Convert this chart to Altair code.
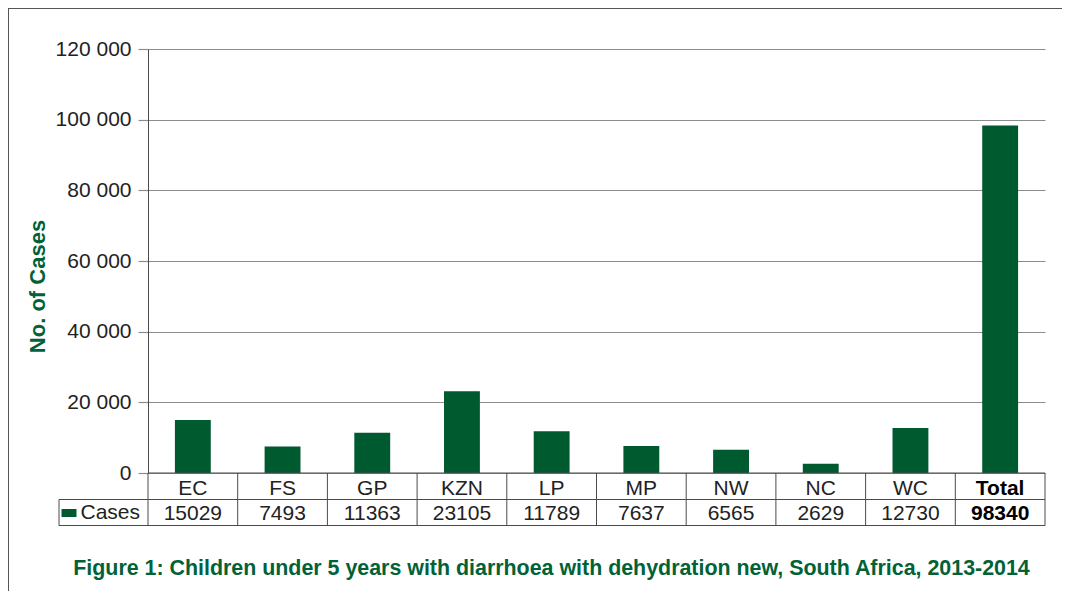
import altair as alt
import pandas as pd

categories = ["EC", "FS", "GP", "KZN", "LP", "MP", "NW", "NC", "WC", "Total"]
cases = [15029, 7493, 11363, 23105, 11789, 7637, 6565, 2629, 12730, 98340]
y_ticks = [0, 20000, 40000, 60000, 80000, 100000, 120000]
series_name = "Cases"
y_title = "No. of Cases"
caption = "Figure 1: Children under 5 years with diarrhoea with dehydration new, South Africa, 2013-2014"

GREEN = "#005a30"
TEXT_GREEN = "#006236"
LINE = "#4a4a4a"
GRID = "#8c8c8c"
FONT = "Liberation Sans"

W, H = 897, 424

df = pd.DataFrame({
    "cat": categories,
    "cases": cases,
    "series": [series_name] * len(categories),
    "label": [str(v) for v in cases],
})
one = pd.DataFrame({"k": [0]})

x_enc = alt.X("cat:N", sort=categories,
              scale=alt.Scale(paddingInner=0, paddingOuter=0), axis=None)

bars = alt.Chart(df).mark_bar(width=alt.RelativeBandSize(0.4)).encode(
    x=x_enc,
    y=alt.Y("cases:Q",
            scale=alt.Scale(domain=[0, 120000], nice=False),
            axis=alt.Axis(
                values=y_ticks,
                labelExpr="replace(format(datum.value, ','), ',', ' ')",
                tickSize=10, tickColor=GRID, tickWidth=1.2,
                grid=True, gridColor=GRID, gridWidth=1.2,
                domainColor=LINE, domainWidth=1,
                labelFontSize=21, labelColor="#222222", labelFont=FONT,
                labelPadding=7,
                title=y_title, titleFont=FONT, titleFontSize=22,
                titleFontWeight="bold", titleColor=TEXT_GREEN,
                titleAngle=270, titleAlign="center", titleBaseline="middle",
                titleX=-110.5, titleY=237,
            )),
    color=alt.Color("series:N",
                    scale=alt.Scale(range=[GREEN]),
                    legend=alt.Legend(
                        orient="none", legendX=-89.5, legendY=453.5, title=None,
                        symbolType="M-1,-0.53L1,-0.53L1,0.53L-1,0.53Z",
                        symbolSize=225, symbolStrokeWidth=0,
                        labelFontSize=21, labelFont=FONT, labelColor="#222222",
                        labelOffset=1, padding=0)),
)

not_total = alt.datum.cat != "Total"
is_total = alt.datum.cat == "Total"

CAT_Y, VAL_Y = 439.5, 464.5

cat_text = alt.Chart(df).transform_filter(not_total).mark_text(
    fontSize=21, font=FONT, color="#222222", baseline="middle").encode(
    x=x_enc, y=alt.value(CAT_Y), text="cat:N")
cat_text_b = alt.Chart(df).transform_filter(is_total).mark_text(
    fontSize=21, font=FONT, fontWeight="bold", color="#000000", baseline="middle").encode(
    x=x_enc, y=alt.value(CAT_Y), text="cat:N")
val_text = alt.Chart(df).transform_filter(not_total).mark_text(
    fontSize=21, font=FONT, color="#222222", baseline="middle").encode(
    x=x_enc, y=alt.value(VAL_Y), text="label:N")
val_text_b = alt.Chart(df).transform_filter(is_total).mark_text(
    fontSize=21, font=FONT, fontWeight="bold", color="#000000", baseline="middle").encode(
    x=x_enc, y=alt.value(VAL_Y), text="label:N")

# table separators at band boundaries
seps = alt.Chart(df).mark_rule(color=LINE, strokeWidth=1).encode(
    x=alt.X("cat:N", sort=categories, bandPosition=0, axis=None),
    y=alt.value(424), y2=alt.value(476.5))


def hrule(y, x1, x2, color=LINE):
    return alt.Chart(one).mark_rule(color=color, strokeWidth=1).encode(
        x=alt.value(x1), x2=alt.value(x2), y=alt.value(y))


def vrule(x, y1, y2, color=LINE):
    return alt.Chart(one).mark_rule(color=color, strokeWidth=1).encode(
        x=alt.value(x), y=alt.value(y1), y2=alt.value(y2))


table_lines = [
    hrule(424, 0, W),
    hrule(450.5, -89, W),
    hrule(476.5, -89, W),
    vrule(W, 424, 476.5),
    vrule(-89, 450.5, 476.5),
]
frame = [
    hrule(-40.5, -140, W + 20, color="#555555"),
    vrule(-139.5, -41, 545, color="#555555"),
]

cap = alt.Chart(one).mark_text(
    fontSize=21.4, font=FONT, fontWeight="bold", color=TEXT_GREEN,
    align="center", baseline="alphabetic").encode(
    x=alt.value(403.5), y=alt.value(526), text=alt.value(caption))

chart = alt.layer(
    bars, seps, *table_lines, cat_text, cat_text_b, val_text, val_text_b,
    *frame, cap
).properties(
    width=W, height=H,
    autosize=alt.AutoSizeParams(type="none"),
    padding={"left": 140, "top": 41, "right": 17, "bottom": 118},
    background="white",
).configure_view(stroke=None)

chart.save("out.html", embed_options={"renderer": "svg", "actions": False})
